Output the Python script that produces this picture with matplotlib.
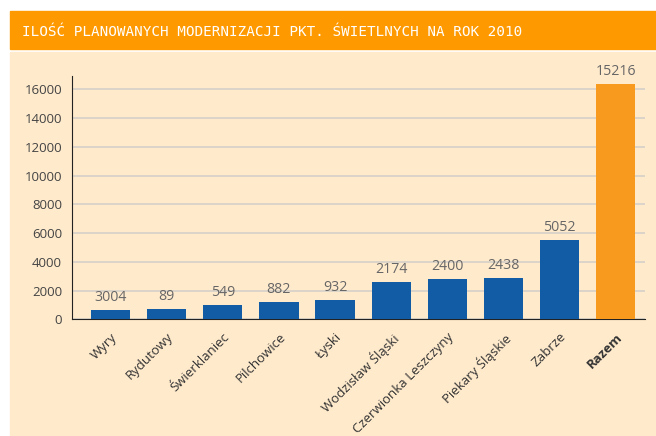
import matplotlib.pyplot as plt
import matplotlib.patches as pat

# dane
miasta = ['Wyry', 'Rydutowy', 'Świerklaniec', 'Pilchowice', 'Łyski',
          'Wodzisław Śląski', 'Czerwionka Leszczyny', 'Piekary Śląskie',
          'Zabrze', 'Razem']
wysokosci = [650, 740, 1000, 1200, 1370, 2620, 2800, 2870, 5520, 16370]
etykiety = ['3004', '89', '549', '882', '932', '2174', '2400', '2438', '5052', '15216']
kolory = ['#125ca6'] * 9 + ['#f79a1e']

fig = plt.figure(figsize=(6.56, 4.36), dpi=100)
fig.patch.set_facecolor('white')

# tlo: pomaranczowy pasek + kremowy panel
fig.patches.append(pat.Rectangle((10 / 656, 1 - 49 / 436), 1, 38 / 436,
                                 transform=fig.transFigure, color='#ff9900', zorder=-5))
fig.patches.append(pat.Rectangle((10 / 656, 0), 1, 1 - 52 / 436,
                                 transform=fig.transFigure, color='#ffeacc', zorder=-5))
fig.text(22 / 656, 1 - 32.5 / 436, 'ILOŚĆ PLANOWANYCH MODERNIZACJI PKT. ŚWIETLNYCH NA ROK 2010',
         color='white', fontsize=10.3, family='DejaVu Sans Mono', va='center', ha='left')

ax = fig.add_axes([71.7 / 656, 1 - 319.3 / 436, (645 - 71.7) / 656, (319.3 - 76) / 436])
ax.set_facecolor('none')

x = list(range(len(miasta)))
bars = ax.bar(x, wysokosci, width=0.7, color=kolory, zorder=3)
for b, t in zip(bars, etykiety):
    ax.text(b.get_x() + b.get_width() / 2, b.get_height() + 330, t,
            ha='center', va='bottom', fontsize=10.2, color='#666666', family='Open Sans')

ax.set_xlim(-0.69, 9.52)
ax.set_ylim(0, 16920)
ax.set_yticks(range(0, 16001, 2000))
ax.yaxis.grid(True, color='#d5d0c8', linewidth=1.2, zorder=0)
ax.set_axisbelow(True)
ax.tick_params(axis='both', length=0, labelsize=9.5, labelcolor='#444444')
ax.tick_params(axis='y', pad=7)
for lab in ax.get_yticklabels():
    lab.set_family('Open Sans')

ax.set_xticks(x)
ax.set_xticklabels(miasta, rotation=45, ha='right', rotation_mode='anchor',
                   family='Open Sans', fontsize=9.5, color='#333333')
ax.tick_params(axis='x', pad=8)
ax.get_xticklabels()[-1].set_fontweight('bold')

for s in ['top', 'right']:
    ax.spines[s].set_visible(False)
ax.spines['left'].set_color('#222222')
ax.spines['bottom'].set_color('#222222')

fig.savefig('out.png', dpi=100, facecolor=fig.get_facecolor())
